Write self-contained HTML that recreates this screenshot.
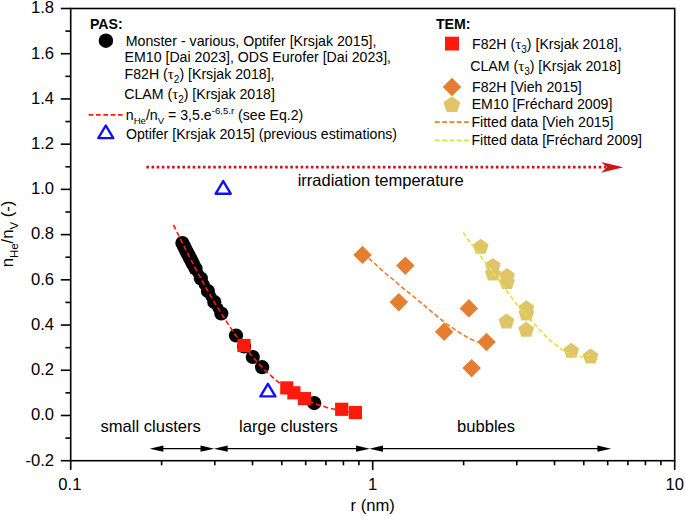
<!DOCTYPE html>
<html><head><meta charset="utf-8"><title>chart</title>
<style>html,body{margin:0;padding:0;background:#fff;}svg{display:block;position:absolute;left:0;top:0;}text{font-family:"Liberation Sans",sans-serif;fill:#000;}.ser{font-family:"Liberation Serif",serif;}</style>
</head><body>
<svg width="685" height="516" viewBox="0 0 685 516">
<rect width="685" height="516" fill="#fff"/>
<g fill="#000">
<circle cx="182.4" cy="243.0" r="7.1"/>
<circle cx="183.9" cy="246.0" r="7.1"/>
<circle cx="185.4" cy="249.0" r="7.1"/>
<circle cx="186.9" cy="252.0" r="7.1"/>
<circle cx="188.5" cy="255.0" r="7.1"/>
<circle cx="190.0" cy="258.0" r="7.1"/>
<circle cx="191.6" cy="261.0" r="7.1"/>
<circle cx="193.1" cy="264.0" r="7.1"/>
<circle cx="195.5" cy="268.5" r="7.1"/>
<circle cx="198.2" cy="273.5" r="5.6"/>
<circle cx="200.9" cy="278.5" r="7.1"/>
<circle cx="204.2" cy="284.5" r="5.6"/>
<circle cx="207.9" cy="291.0" r="7.1"/>
<circle cx="211.0" cy="296.5" r="5.6"/>
<circle cx="214.3" cy="302.0" r="7.1"/>
<circle cx="217.9" cy="308.0" r="5.6"/>
<circle cx="221.3" cy="313.5" r="7.1"/>
<circle cx="236.0" cy="335.5" r="7.1"/>
<circle cx="244.1" cy="346.4" r="7.1"/>
<circle cx="252.8" cy="357.0" r="7.1"/>
<circle cx="262.1" cy="367.2" r="7.1"/>
<circle cx="314.2" cy="403.1" r="7.1"/>
</g>
<g fill="#ff1a0e">
<rect x="237.4" y="338.9" width="13.2" height="13.2"/>
<rect x="280.2" y="381.3" width="13.2" height="13.2"/>
<rect x="287.3" y="386.2" width="13.2" height="13.2"/>
<rect x="297.9" y="392.0" width="13.2" height="13.2"/>
<rect x="335.1" y="402.7" width="13.2" height="13.2"/>
<rect x="348.8" y="406.0" width="13.2" height="13.2"/>
</g>
<polyline fill="none" stroke="#ff1a0e" stroke-width="1.6" stroke-dasharray="5 2.8" points="173.5,224.9 176.1,230.2 178.7,235.5 181.3,240.8 183.9,246.0 186.5,251.1 189.1,256.2 191.7,261.2 194.3,266.2 196.9,271.1 199.5,275.9 202.1,280.7 204.7,285.4 207.3,290.0 209.9,294.5 212.5,299.0 215.1,303.4 217.7,307.7 220.3,311.9 222.9,316.0 225.5,320.0 228.1,324.0 230.7,327.9 233.3,331.6 235.8,335.3 238.4,338.9 241.0,342.4 243.6,345.8 246.2,349.1 248.8,352.3 251.4,355.4 254.0,358.4 256.6,361.4 259.2,364.2 261.8,366.9 264.4,369.6 267.0,372.1 269.6,374.5 272.2,376.9 274.8,379.2 277.4,381.3 280.0,383.4 282.6,385.4 285.2,387.3 287.8,389.1 290.4,390.9 293.0,392.5 295.6,394.1 298.2,395.6 300.8,397.0 303.4,398.3 306.0,399.6 308.6,400.8 311.2,401.9 313.8,403.0 316.4,404.0 319.0,404.9 321.6,405.8 324.2,406.6 326.8,407.4 329.3,408.1 331.9,408.7 334.5,409.3 337.1,409.9 339.7,410.4 342.3,410.9 344.9,411.4 347.5,411.8 350.1,412.2 352.7,412.5 355.3,412.8 357.9,413.1"/>
<g fill="#e67e32">
<polygon points="362.5,245.7 371.8,254.9 362.5,264.1 353.2,254.9"/>
<polygon points="405.3,256.4 414.6,265.6 405.3,274.9 396.1,265.6"/>
<polygon points="398.8,292.9 408.1,302.1 398.8,311.4 389.6,302.1"/>
<polygon points="444.2,322.6 453.4,331.8 444.2,341.1 434.9,331.8"/>
<polygon points="468.9,299.1 478.1,308.4 468.9,317.6 459.6,308.4"/>
<polygon points="486.5,332.8 495.8,342.0 486.5,351.2 477.2,342.0"/>
<polygon points="471.7,358.9 480.9,368.1 471.7,377.4 462.4,368.1"/>
</g>
<polyline fill="none" stroke="#e67e32" stroke-width="1.6" stroke-linejoin="round" stroke-dasharray="4.7 2.5" points="368.7,258.4 374.0,262.8 379.8,268.4 386.7,274.4 393.7,280.0 400.7,286.3 406.5,290.9 412.3,295.5 418.1,300.4 424.0,305.2 427.0,307.8 434.0,313.7 441.0,319.5 446.9,324.1 453.9,328.9 460.9,333.5 467.9,337.6 473.7,340.5 477.8,342.0"/>
<g fill="#e0c468">
<polygon points="480.7,238.7 488.6,244.4 485.6,253.7 475.8,253.7 472.8,244.4"/>
<polygon points="492.8,257.9 500.7,263.6 497.7,272.9 487.9,272.9 484.9,263.6"/>
<polygon points="492.9,265.5 500.8,271.2 497.8,280.5 488.0,280.5 485.0,271.2"/>
<polygon points="507.0,268.1 514.9,273.8 511.9,283.1 502.1,283.1 499.1,273.8"/>
<polygon points="507.0,274.0 514.9,279.7 511.9,289.0 502.1,289.0 499.1,279.7"/>
<polygon points="526.4,300.3 534.3,306.0 531.3,315.3 521.5,315.3 518.5,306.0"/>
<polygon points="526.4,305.5 534.3,311.2 531.3,320.5 521.5,320.5 518.5,311.2"/>
<polygon points="506.5,313.4 514.4,319.1 511.4,328.4 501.6,328.4 498.6,319.1"/>
<polygon points="526.2,321.8 534.1,327.5 531.1,336.8 521.3,336.8 518.3,327.5"/>
<polygon points="571.3,342.7 579.2,348.4 576.2,357.7 566.4,357.7 563.4,348.4"/>
<polygon points="590.6,348.4 598.5,354.1 595.5,363.4 585.7,363.4 582.7,354.1"/>
</g>
<polyline fill="none" stroke="#d4e640" stroke-width="1.6" stroke-linejoin="round" stroke-dasharray="4.7 2.5" points="463.3,232.6 470.1,242.4 477.7,252.3 485.3,262.1 492.9,272.3 497.3,278.2 500.8,283.2 504.6,288.4 508.4,293.1 511.6,297.5 518.6,306.7 526.4,315.2 534.1,323.8 541.9,332.3 549.6,340.0 557.4,346.2 565.1,351.7 572.9,355.5 579.1,357.1 585.3,356.3 591.2,354.5"/>
<polygon fill="none" stroke="#1010ff" stroke-width="2.4" stroke-linejoin="round" points="223.2,181.1 230.7,193.7 215.7,193.7"/>
<polygon fill="none" stroke="#1010ff" stroke-width="2.4" stroke-linejoin="round" points="267.9,383.8 275.4,396.4 260.4,396.4"/>
<polygon fill="none" stroke="#1010ff" stroke-width="2.4" stroke-linejoin="round" points="105.8,125.5 113.3,138.1 98.3,138.1"/>
<line x1="146.4" y1="167.2" x2="606" y2="167.2" stroke="#cc1616" stroke-width="2.7" stroke-dasharray="2.6 2.54"/>
<polygon fill="#cc1616" points="623.3,167.3 601,161.9 607,167.3 601,172.8"/>
<line x1="154.6" y1="448.7" x2="209.3" y2="448.7" stroke="#000" stroke-width="1.2"/><polygon fill="#000" points="149.6,448.7 163.4,445.59999999999997 163.4,451.8"/><polygon fill="#000" points="214.3,448.7 200.5,445.59999999999997 200.5,451.8"/>
<line x1="218.9" y1="448.7" x2="364.9" y2="448.7" stroke="#000" stroke-width="1.2"/><polygon fill="#000" points="213.9,448.7 227.70000000000002,445.59999999999997 227.70000000000002,451.8"/><polygon fill="#000" points="369.9,448.7 356.09999999999997,445.59999999999997 356.09999999999997,451.8"/>
<line x1="374.2" y1="448.7" x2="606.2" y2="448.7" stroke="#000" stroke-width="1.2"/><polygon fill="#000" points="369.2,448.7 383.0,445.59999999999997 383.0,451.8"/><polygon fill="#000" points="611.2,448.7 597.4000000000001,445.59999999999997 597.4000000000001,451.8"/>
<rect x="70.7" y="8.5" width="604.0" height="452.2" fill="none" stroke="#000" stroke-width="1.6"/>
<g stroke="#000" stroke-width="1.6">
<line x1="60.800000000000004" y1="460.70" x2="70.7" y2="460.70"/>
<line x1="65.4" y1="438.09" x2="70.7" y2="438.09"/>
<line x1="60.800000000000004" y1="415.48" x2="70.7" y2="415.48"/>
<line x1="65.4" y1="392.87" x2="70.7" y2="392.87"/>
<line x1="60.800000000000004" y1="370.26" x2="70.7" y2="370.26"/>
<line x1="65.4" y1="347.65" x2="70.7" y2="347.65"/>
<line x1="60.800000000000004" y1="325.04" x2="70.7" y2="325.04"/>
<line x1="65.4" y1="302.43" x2="70.7" y2="302.43"/>
<line x1="60.800000000000004" y1="279.82" x2="70.7" y2="279.82"/>
<line x1="65.4" y1="257.21" x2="70.7" y2="257.21"/>
<line x1="60.800000000000004" y1="234.60" x2="70.7" y2="234.60"/>
<line x1="65.4" y1="211.99" x2="70.7" y2="211.99"/>
<line x1="60.800000000000004" y1="189.38" x2="70.7" y2="189.38"/>
<line x1="65.4" y1="166.77" x2="70.7" y2="166.77"/>
<line x1="60.800000000000004" y1="144.16" x2="70.7" y2="144.16"/>
<line x1="65.4" y1="121.55" x2="70.7" y2="121.55"/>
<line x1="60.800000000000004" y1="98.94" x2="70.7" y2="98.94"/>
<line x1="65.4" y1="76.33" x2="70.7" y2="76.33"/>
<line x1="60.800000000000004" y1="53.72" x2="70.7" y2="53.72"/>
<line x1="65.4" y1="31.11" x2="70.7" y2="31.11"/>
<line x1="60.800000000000004" y1="8.50" x2="70.7" y2="8.50"/>
<line x1="70.70" y1="460.7" x2="70.70" y2="469.9"/>
<line x1="161.61" y1="460.7" x2="161.61" y2="465.3"/>
<line x1="214.79" y1="460.7" x2="214.79" y2="465.3"/>
<line x1="252.52" y1="460.7" x2="252.52" y2="465.3"/>
<line x1="281.79" y1="460.7" x2="281.79" y2="465.3"/>
<line x1="305.70" y1="460.7" x2="305.70" y2="465.3"/>
<line x1="325.92" y1="460.7" x2="325.92" y2="465.3"/>
<line x1="343.43" y1="460.7" x2="343.43" y2="465.3"/>
<line x1="358.88" y1="460.7" x2="358.88" y2="465.3"/>
<line x1="372.70" y1="460.7" x2="372.70" y2="469.9"/>
<line x1="463.61" y1="460.7" x2="463.61" y2="465.3"/>
<line x1="516.79" y1="460.7" x2="516.79" y2="465.3"/>
<line x1="554.52" y1="460.7" x2="554.52" y2="465.3"/>
<line x1="583.79" y1="460.7" x2="583.79" y2="465.3"/>
<line x1="607.70" y1="460.7" x2="607.70" y2="465.3"/>
<line x1="627.92" y1="460.7" x2="627.92" y2="465.3"/>
<line x1="645.43" y1="460.7" x2="645.43" y2="465.3"/>
<line x1="660.88" y1="460.7" x2="660.88" y2="465.3"/>
<line x1="674.70" y1="460.7" x2="674.70" y2="469.9"/>
</g>
<g font-size="16.6" text-anchor="end">
<text x="54" y="465.5">-0.2</text>
<text x="54" y="420.3">0.0</text>
<text x="54" y="375.1">0.2</text>
<text x="54" y="329.8">0.4</text>
<text x="54" y="284.6">0.6</text>
<text x="54" y="239.4">0.8</text>
<text x="54" y="194.2">1.0</text>
<text x="54" y="149.0">1.2</text>
<text x="54" y="103.7">1.4</text>
<text x="54" y="58.5">1.6</text>
<text x="54" y="13.3">1.8</text>
</g>
<g font-size="16.6" text-anchor="middle">
<text x="69.9" y="490.2">0.1</text>
<text x="372.7" y="490.2">1</text>
 <text x="674.7" y="490.2">10</text>
<text x="372.7" y="511.2">r (nm)</text>
</g>
<text font-size="16.6" text-anchor="middle" transform="translate(13.3,234) rotate(-90)">n<tspan font-size="11.5" dy="4.5">He</tspan><tspan dy="-4.5">/n</tspan><tspan font-size="11.5" dy="4.5">V</tspan><tspan dy="-4.5"> (-)</tspan></text>
<g font-size="16.6">
<text x="297.7" y="185.8" font-size="16.5">irradiation temperature</text>
<text x="100.4" y="431.9">small clusters</text>
<text x="239.1" y="431.9">large clusters</text>
<text x="457" y="431.9">bubbles</text>
</g>
<g font-size="14.15">
<text x="89.9" y="28.5" font-weight="bold" font-size="14.15">PAS:</text>
<circle cx="105.9" cy="40.7" r="7.2" fill="#000"/>
<text x="125.7" y="45.6" font-size="14.2">Monster - various, Optifer [Krsjak 2015],</text>
<text x="124.6" y="61.5">EM10 [Dai 2023], ODS Eurofer [Dai 2023],</text>
<text x="124.6" y="79.45">F82H (<tspan class="ser" font-size="15">τ</tspan><tspan font-size="10" dy="4">2</tspan><tspan dy="-4">) [Krsjak 2018],</tspan></text>
<text x="124.2" y="99.1">CLAM (<tspan class="ser" font-size="15">τ</tspan><tspan font-size="10" dy="4">2</tspan><tspan dy="-4">) [Krsjak 2018]</tspan></text>
<line x1="88.7" y1="114.9" x2="123" y2="114.9" stroke="#ff1a0e" stroke-width="1.7" stroke-dasharray="4.75 2.55"/>
<text x="125.8" y="120.1">n<tspan font-size="9.6" dy="4.2">He</tspan><tspan dy="-4.2">/n</tspan><tspan font-size="9.6" dy="4.2">V</tspan><tspan dy="-4.2"> = 3,5.e</tspan><tspan font-size="9.6" dy="-6">-6,5.r</tspan><tspan dy="6"> (see Eq.2)</tspan></text>
<text x="125.9" y="139.1">Optifer [Krsjak 2015] (previous estimations)</text>
<text x="435.9" y="29.1" font-weight="bold" font-size="14.15">TEM:</text>
<rect x="445" y="36.7" width="14" height="13.8" fill="#ff1a0e"/>
<polygon fill="#e67e32" points="452,77.7 461.3,87 452,96.3 442.7,87"/>
<g fill="#e0c468"><polygon points="451.9,96.2 460.3,102.3 457.1,112.1 446.7,112.1 443.5,102.3"/></g>
<line x1="434.9" y1="122.1" x2="468.8" y2="122.1" stroke="#e67e32" stroke-width="1.7" stroke-dasharray="4.75 2.55"/>
<line x1="434.9" y1="140.4" x2="468.8" y2="140.4" stroke="#d4e640" stroke-width="1.7" stroke-dasharray="4.75 2.55"/>
<text x="472.0" y="49.0">F82H (<tspan class="ser" font-size="15">τ</tspan><tspan font-size="10" dy="4">3</tspan><tspan dy="-4">) [Krsjak 2018],</tspan></text>
<text x="470.2" y="71.3">CLAM (<tspan class="ser" font-size="15">τ</tspan><tspan font-size="10" dy="4">3</tspan><tspan dy="-4">) [Krsjak 2018]</tspan></text>
<text x="472.0" y="91.8">F82H [Vieh 2015]</text>
<text x="471.7" y="109.1">EM10 [Fréchard 2009]</text>
<text x="471.4" y="126.9">Fitted data [Vieh 2015]</text>
<text x="471.4" y="144.5">Fitted data [Fréchard 2009]</text>
</g>
</svg></body></html>
